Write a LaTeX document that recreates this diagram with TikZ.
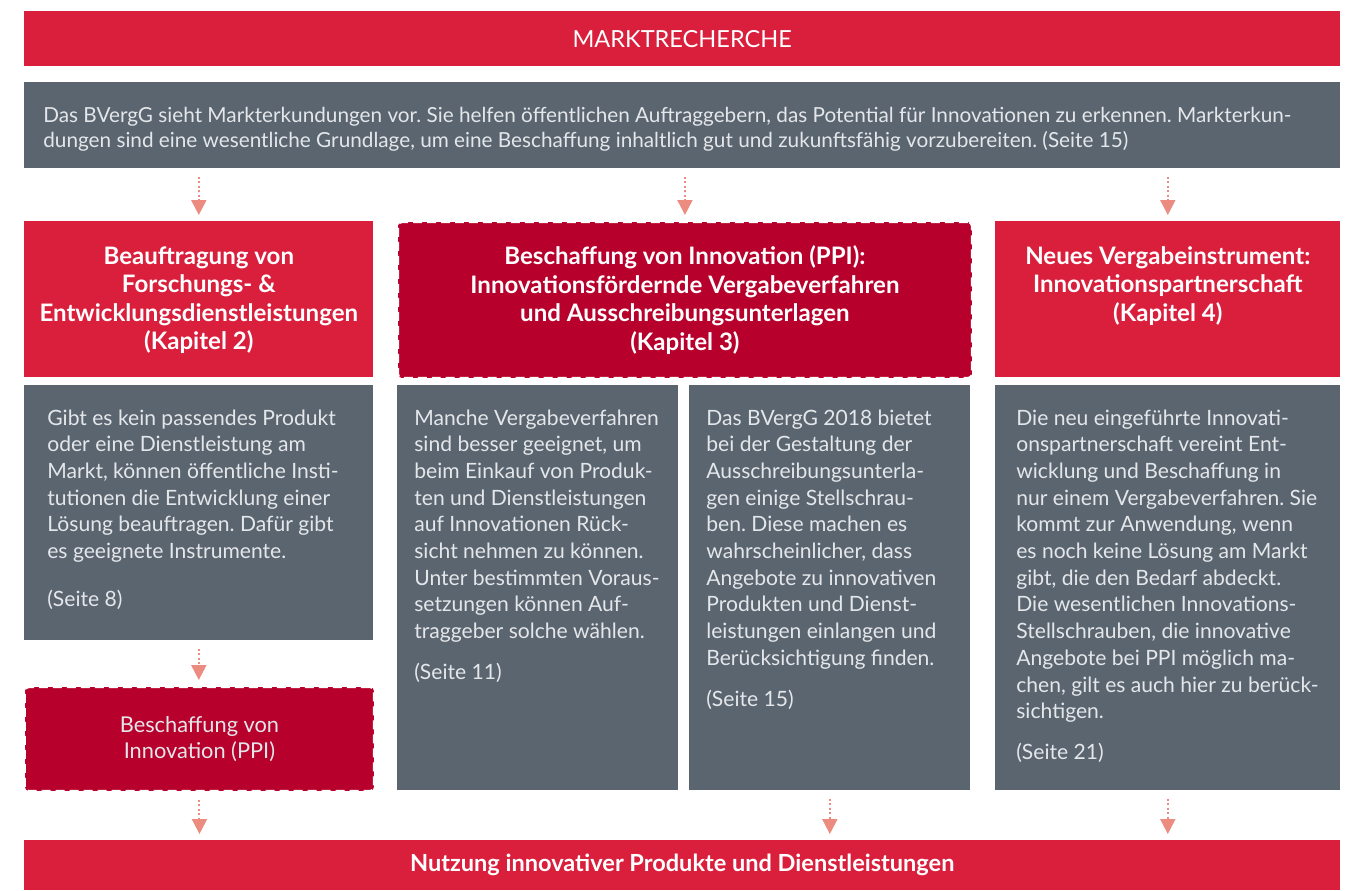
\documentclass[tikz,border=0pt]{standalone}
\usepackage{fontspec}
\setmainfont{Lato}
\usepackage{xcolor}
\usetikzlibrary{arrows.meta,calc}
\frenchspacing

\definecolor{rot}{HTML}{DA1F3D}
\definecolor{dunkelrot}{HTML}{B8002C}
\definecolor{grau}{HTML}{5B6570}
\definecolor{hell}{HTML}{E4E7EA}
\definecolor{pfeilfarbe}{HTML}{EC8B7F}

\newcommand{\oben}[3]{\parbox[t][#1][t]{#2}{#3}}

\begin{document}
\begin{tikzpicture}
  [x=0.02cm,y=-0.02cm,
   every node/.style={anchor=north west,inner sep=0pt},
   balken/.style={fill=rot,text=white,minimum width=26.32cm,minimum height=#1,
     font=\fontsize{13.4pt}{16pt}\selectfont},
   kopf/.style={fill=rot,text=white,inner xsep=0.15cm,
     font=\fontsize{13.7pt}{16.2pt}\selectfont\bfseries},
   gestrichelt/.style={fill=dunkelrot,draw=white,line width=0.04cm,
     dash pattern=on 0.18cm off 0.1cm,rounded corners=0.08cm},
   textbox/.style={fill=grau,text=hell,inner xsep=#1,
     font=\fontsize{12pt}{15.2pt}\selectfont},
   pfeil/.style={draw=pfeilfarbe,line width=0.04cm,dash pattern=on 0.04cm off 0.05cm,
     shorten <=0.16cm,shorten >=0.12cm,-{Triangle[width=0.3cm,length=0.3cm]}}]
  \useasboundingbox (0,0) rectangle (1364,890);

  \node[balken=1.1cm] (titel) at (24,11) {MARKTRECHERCHE};
  \node[textbox=0.38cm,font=\fontsize{11.8pt}{14.2pt}\selectfont] (intro) at (24,82)
    {\oben{1.72cm}{25.56cm}{\vspace*{0.45cm}\strut Das BVergG sieht Markterkundungen vor. Sie helfen öffentlichen Auftraggebern, das Potential für Innovationen zu erkennen. Markterkun-\\dungen sind eine wesentliche Grundlage, um eine Beschaffung inhaltlich gut und zukunftsfähig vorzubereiten. (Seite 15)}};

  \node[kopf] (kap2) at (24,221)
    {\oben{3.12cm}{6.68cm}{\centering\vspace*{0.46cm}\strut Beauftragung von\\Forschungs- \&\\Entwicklungsdienstleistungen\\(Kapitel 2)}};
  \node[kopf,gestrichelt] (kap3) at (397,221)
    {\oben{3.12cm}{11.18cm}{\centering\vspace*{0.46cm}\strut Beschaffung von Innovation (PPI):\\Innovationsfördernde Vergabeverfahren\\und Ausschreibungsunterlagen\\(Kapitel 3)}};
  \node[kopf] (kap4) at (995,221)
    {\oben{3.12cm}{6.6cm}{\centering\vspace*{0.46cm}\strut Neues Vergabeinstrument:\\Innovationspartnerschaft\\(Kapitel 4)}};

  \node[textbox=0.46cm] (txt2) at (24,385)
    {\oben{5.1cm}{6.06cm}{\raggedright\vspace*{0.42cm}\strut Gibt es kein passendes Produkt\\oder eine Dienstleistung am\\Markt, können öffentliche Insti-\\tutionen die Entwicklung einer\\Lösung beauftragen. Dafür gibt\\es geeignete Instrumente.\\[0.42cm](Seite 8)}};
  \node[textbox=0.34cm] (txt3a) at (397,385)
    {\oben{8.1cm}{4.94cm}{\raggedright\vspace*{0.42cm}\strut Manche Vergabeverfahren\\sind besser geeignet, um\\beim Einkauf von Produk-\\ten und Dienstleistungen\\auf Innovationen Rück-\\sicht nehmen zu können.\\Unter bestimmten Voraus-\\setzungen können Auf-\\traggeber solche wählen.\\[0.28cm](Seite 11)}};
  \node[textbox=0.34cm] (txt3b) at (689,385)
    {\oben{8.1cm}{4.94cm}{\raggedright\vspace*{0.42cm}\strut Das BVergG 2018 bietet\\bei der Gestaltung der\\Ausschreibungsunterla-\\gen einige Stellschrau-\\ben. Diese machen es\\wahrscheinlicher, dass\\Angebote zu innovativen\\Produkten und Dienst-\\leistungen einlangen und\\Berücksichtigung finden.\\[0.28cm](Seite 15)}};
  \node[textbox=0.42cm] (txt4) at (995,385)
    {\oben{8.1cm}{6.06cm}{\raggedright\vspace*{0.42cm}\strut Die neu eingeführte Innovati-\\onspartnerschaft vereint Ent-\\wicklung und Beschaffung in\\nur einem Vergabeverfahren. Sie\\kommt zur Anwendung, wenn\\es noch keine Lösung am Markt\\gibt, die den Bedarf abdeckt.\\Die wesentlichen Innovations-\\Stellschrauben, die innovative\\Angebote bei PPI möglich ma-\\chen, gilt es auch hier zu berück-\\sichtigen.\\[0.28cm](Seite 21)}};

  \node[gestrichelt,text=hell,minimum width=6.98cm,minimum height=2.08cm,align=center,
    font=\fontsize{12.4pt}{15.2pt}\selectfont] (ppi) at (24,686)
    {Beschaffung von\\Innovation (PPI)};

  \node[balken=1cm,font=\fontsize{13.4pt}{16pt}\selectfont\bfseries] (nutzung) at (24,840)
    {Nutzung innovativer Produkte und Dienstleistungen};

  \foreach \von/\nach in {intro/kap2,intro/kap3,intro/kap4}
    \draw[pfeil] (\von.south -| \nach.north) -- (\nach.north);
  \foreach \von/\nach in {txt2/ppi,ppi/nutzung,txt3b/nutzung,txt4/nutzung}
    \draw[pfeil] (\von.south) -- (\von.south |- \nach.north);

\end{tikzpicture}
\end{document}
